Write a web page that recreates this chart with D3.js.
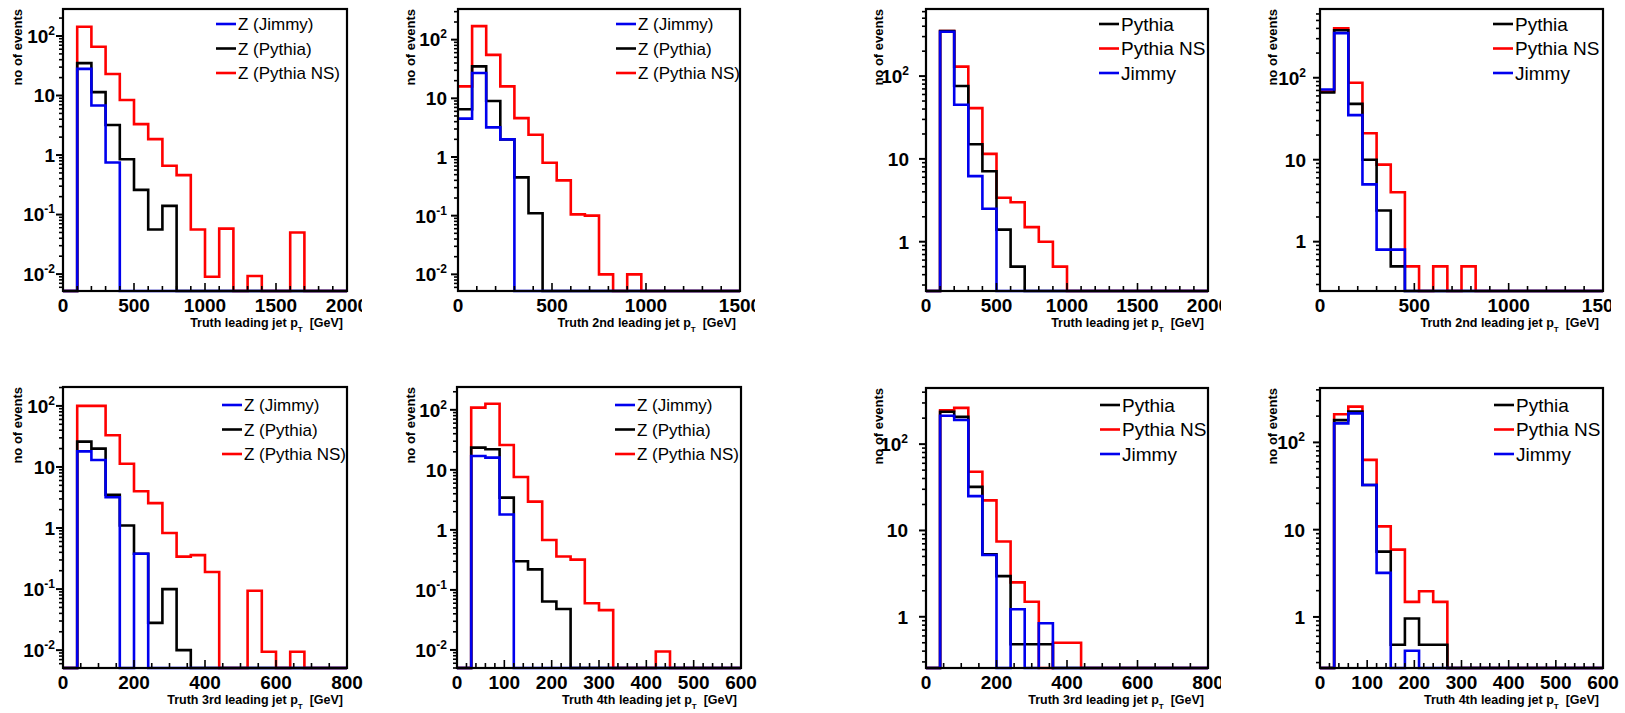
<!DOCTYPE html>
<html>
<head>
<meta charset="utf-8">
<script src="https://cdn.jsdelivr.net/npm/d3@7"></script>
<style>
  html, body { margin: 0; padding: 0; background: #ffffff; }
  svg { display: block; }
  text { font-family: "Liberation Sans", Arial, Helvetica, sans-serif; }
</style>
</head>
<body>
<svg id="chart" width="1625" height="713"></svg>
<script>
// ---------------- data: events per bin ----------------
// Z samples, leading jet pT, 100 GeV bins from 0 to 2000
const zLeadJimmy    = [0, 28, 6.8, 0.75, 0, 0, 0, 0, 0, 0, 0, 0, 0, 0, 0, 0, 0, 0, 0, 0];
const zLeadPythia   = [0, 35, 11.4, 3.2, 0.85, 0.26, 0.056, 0.14, 0, 0, 0, 0, 0, 0, 0, 0, 0, 0, 0, 0];
const zLeadPythiaNS = [0, 143, 66, 23, 8.4, 3.3, 1.85, 0.66, 0.46, 0.056, 0.009, 0.058, 0, 0.0093, 0, 0, 0.05, 0, 0, 0];

// Z samples, 2nd leading jet pT, 75 GeV bins from 0 to 1500
const z2ndJimmy    = [4.5, 27, 3.2, 2, 0, 0, 0, 0, 0, 0, 0, 0, 0, 0, 0, 0, 0, 0, 0, 0];
const z2ndPythia   = [6.5, 35, 9, 2, 0.45, 0.11, 0, 0, 0, 0, 0, 0, 0, 0, 0, 0, 0, 0, 0, 0];
const z2ndPythiaNS = [16, 170, 55, 16, 4.6, 2.4, 0.8, 0.4, 0.105, 0.1, 0.01, 0, 0.01, 0, 0, 0, 0, 0, 0, 0];

// Z samples, 3rd leading jet pT, 40 GeV bins from 0 to 800
const z3rdJimmy    = [0, 18, 13, 3.2, 0, 0.38, 0, 0, 0, 0, 0, 0, 0, 0, 0, 0, 0, 0, 0, 0];
const z3rdPythia   = [0, 26, 20, 3.5, 1.1, 0.38, 0.028, 0.1, 0.01, 0, 0, 0, 0, 0, 0, 0, 0, 0, 0, 0];
const z3rdPythiaNS = [0, 100, 100, 33, 11.3, 4.0, 2.56, 0.83, 0.34, 0.36, 0.19, 0, 0, 0.094, 0.0094, 0, 0.0094, 0, 0, 0];

// Z samples, 4th leading jet pT, 30 GeV bins from 0 to 600
const z4thJimmy    = [0, 17, 16, 1.8, 0, 0, 0, 0, 0, 0, 0, 0, 0, 0, 0, 0, 0, 0, 0, 0];
const z4thPythia   = [0, 23.5, 22, 3.45, 0.3, 0.22, 0.064, 0.048, 0, 0, 0, 0, 0, 0, 0, 0, 0, 0, 0, 0];
const z4thPythiaNS = [0, 109, 126, 26, 7.6, 2.96, 0.68, 0.36, 0.32, 0.06, 0.046, 0, 0, 0, 0.0094, 0, 0, 0, 0, 0];

// Generator comparison, leading jet pT, 100 GeV bins from 0 to 2000
const leadPythia   = [0, 350, 76, 15, 7.1, 1.4, 0.5, 0, 0, 0, 0, 0, 0, 0, 0, 0, 0, 0, 0, 0];
const leadPythiaNS = [0, 350, 130, 41, 11.5, 3.4, 3.0, 1.5, 1.0, 0.5, 0, 0, 0, 0, 0, 0, 0, 0, 0, 0];
const leadJimmy    = [0, 343, 45, 6.2, 2.5, 0, 0, 0, 0, 0, 0, 0, 0, 0, 0, 0, 0, 0, 0, 0];

// Generator comparison, 2nd leading jet pT, 75 GeV bins from 0 to 1500
const sub2Pythia   = [66, 380, 48, 10, 2.4, 0.5, 0, 0, 0, 0, 0, 0, 0, 0, 0, 0, 0, 0, 0, 0];
const sub2PythiaNS = [68, 400, 87, 21, 8.7, 4, 0.5, 0, 0.5, 0, 0.5, 0, 0, 0, 0, 0, 0, 0, 0, 0];
const sub2Jimmy    = [72, 350, 35, 5, 0.8, 0.8, 0, 0, 0, 0, 0, 0, 0, 0, 0, 0, 0, 0, 0, 0];

// Generator comparison, 3rd leading jet pT, 40 GeV bins from 0 to 800
const sub3Pythia   = [0, 237, 207, 32, 5.3, 2.96, 0.48, 0.48, 0.48, 0, 0, 0, 0, 0, 0, 0, 0, 0, 0, 0];
const sub3PythiaNS = [0, 247, 263, 47.8, 22.3, 7.45, 2.5, 1.49, 0, 0.5, 0.5, 0, 0, 0, 0, 0, 0, 0, 0, 0];
const sub3Jimmy    = [0, 213, 190, 25, 5.2, 0, 1.22, 0, 0.84, 0, 0, 0, 0, 0, 0, 0, 0, 0, 0, 0];

// Generator comparison, 4th leading jet pT, 30 GeV bins from 0 to 600
const sub4Pythia   = [0, 180, 225, 32.5, 5.6, 0.48, 0.96, 0.48, 0.48, 0, 0, 0, 0, 0, 0, 0, 0, 0, 0, 0];
const sub4PythiaNS = [0, 210, 257, 63, 10.9, 5.9, 1.49, 1.97, 1.49, 0, 0, 0, 0, 0, 0, 0, 0, 0, 0, 0];
const sub4Jimmy    = [0, 165, 215, 32.5, 3.2, 0, 0.41, 0, 0, 0, 0, 0, 0, 0, 0, 0, 0, 0, 0, 0];

// legend labels and axis titles
const zLabels   = ["Z (Jimmy)", "Z (Pythia)", "Z (Pythia NS)"];
const genLabels = ["Pythia", "Pythia NS", "Jimmy"];
const xTitles   = ["Truth leading jet p", "Truth 2nd leading jet p", "Truth 3rd leading jet p", "Truth 4th leading jet p"];
const yTitle    = "no of events";

// ---------------- layout ----------------
const RED = "#ff0000", BLACK = "#000000", BLUE = "#0000ee";

const panels = [
  { f: [63, 9, 347, 291],     pad: [0, 362],     xMax: 2000, binW: 100, major: 500, minor: 100, yDom: [0.0052, 284], title: xTitles[0],
    hist: { j: zLeadJimmy, p: zLeadPythia, ns: zLeadPythiaNS }, z: true,  legX: 153, legY: 15, yt: 22, ylGap: 8 },
  { f: [458, 9, 740, 291],    pad: [362, 755],   xMax: 1500, binW: 75,  major: 500, minor: 100, yDom: [0.0052, 333], title: xTitles[1],
    hist: { j: z2ndJimmy, p: z2ndPythia, ns: z2ndPythiaNS }, z: true,    legX: 158, legY: 15, yt: 415, ylGap: 11 },
  { f: [926, 9, 1208, 291],   pad: [820, 1221],  xMax: 2000, binW: 100, major: 500, minor: 100, yDom: [0.254, 646], title: xTitles[0],
    hist: { j: leadJimmy, p: leadPythia, ns: leadPythiaNS }, z: false,   legX: 173, legY: 15, yt: 883, ylGap: 17 },
  { f: [1320, 9, 1603, 291],  pad: [1221, 1611], xMax: 1500, binW: 75,  major: 500, minor: 100, yDom: [0.25, 690], title: xTitles[1],
    hist: { j: sub2Jimmy, p: sub2Pythia, ns: sub2PythiaNS }, z: false,   legX: 173, legY: 15, yt: 1277, ylGap: 14 },
  { f: [63, 387, 347, 668],   pad: [0, 400],     xMax: 800,  binW: 40,  major: 200, minor: 50,  yDom: [0.0051, 204], title: xTitles[2],
    hist: { j: z3rdJimmy, p: z3rdPythia, ns: z3rdPythiaNS }, z: true,    legX: 159, legY: 18, yt: 22, ylGap: 8 },
  { f: [457, 387, 741, 668],  pad: [400, 760],   xMax: 600,  binW: 30,  major: 100, minor: 20,  yDom: [0.005, 240], title: xTitles[3],
    hist: { j: z4thJimmy, p: z4thPythia, ns: z4thPythiaNS }, z: true,    legX: 158, legY: 18, yt: 415, ylGap: 10 },
  { f: [926, 388, 1208, 668], pad: [820, 1221],  xMax: 800,  binW: 40,  major: 200, minor: 50,  yDom: [0.255, 447], title: xTitles[2],
    hist: { j: sub3Jimmy, p: sub3Pythia, ns: sub3PythiaNS }, z: false,   legX: 174, legY: 17, yt: 883, ylGap: 18 },
  { f: [1320, 388, 1603, 668], pad: [1221, 1625], xMax: 600, binW: 30,  major: 100, minor: 20,  yDom: [0.26, 420], title: xTitles[3],
    hist: { j: sub4Jimmy, p: sub4Pythia, ns: sub4PythiaNS }, z: false,   legX: 174, legY: 17, yt: 1277, ylGap: 15 }
];

const svg = d3.select("#chart");
const defs = svg.append("defs");

// log-axis decade label: 1, 10, or 10 with a raised exponent
function supLabel(sel, k) {
  if (k === 0) { sel.text("1"); return; }
  if (k === 1) { sel.text("10"); return; }
  sel.append("tspan").text("10");
  sel.append("tspan").attr("font-size", 12).attr("dy", -8).text(String(k));
}

panels.forEach((P, idx) => {
  const [x0, y0, x1, y1] = P.f;
  const x = d3.scaleLinear().domain([0, P.xMax]).range([x0, x1]);
  const y = d3.scaleLog().domain(P.yDom).range([y1, y0]);
  const g = svg.append("g");

  // clip regions: plot frame and whole pad
  defs.append("clipPath").attr("id", "frame" + idx)
    .append("rect").attr("x", x0).attr("y", y0 - 2).attr("width", x1 - x0).attr("height", y1 - y0 + 4);
  defs.append("clipPath").attr("id", "pad" + idx)
    .append("rect").attr("x", P.pad[0]).attr("y", y0 - 10).attr("width", P.pad[1] - P.pad[0]).attr("height", 340);

  // histograms (step outline, empty bins on the frame floor)
  const nBins = Math.round(P.xMax / P.binW);
  const step = d3.line().curve(d3.curveStepAfter).x(d => x(d[0])).y(d => y(d[1]));
  const toPts = vals => {
    const pts = [];
    for (let i = 0; i < nBins; i++) {
      const v = vals[i] > 0 ? Math.max(vals[i], P.yDom[0]) : P.yDom[0];
      pts.push([i * P.binW, v]);
    }
    pts.push([nBins * P.binW, pts[pts.length - 1][1]]);
    return pts;
  };
  const hg = g.append("g").attr("clip-path", `url(#frame${idx})`);
  [[P.hist.ns, RED], [P.hist.p, BLACK], [P.hist.j, BLUE]].forEach(([vals, col]) => {
    hg.append("path").attr("d", step(toPts(vals)))
      .attr("fill", "none").attr("stroke", col).attr("stroke-width", 2.6)
      .attr("stroke-linejoin", "miter");
  });

  // frame
  g.append("rect").attr("x", x0).attr("y", y0).attr("width", x1 - x0).attr("height", y1 - y0)
    .attr("fill", "none").attr("stroke", "#000").attr("stroke-width", 2.2);

  // x ticks (inside, pointing up)
  const minorT = d3.range(0, P.xMax + 0.001, P.minor);
  g.selectAll(null).data(minorT).enter().append("line")
    .attr("x1", d => x(d)).attr("x2", d => x(d))
    .attr("y1", y1).attr("y2", d => y1 - (Math.abs(d % P.major) < 1e-6 ? 8 : 5))
    .attr("stroke", "#000").attr("stroke-width", 1.6);

  // x tick labels
  const lab = g.append("g").attr("clip-path", `url(#pad${idx})`);
  lab.selectAll(null).data(d3.range(0, P.xMax + 0.001, P.major)).enter().append("text")
    .attr("x", d => x(d)).attr("y", y1 + 21)
    .attr("text-anchor", "middle").attr("font-size", 19).attr("font-weight", "bold")
    .text(d => d);

  // y ticks (outside, pointing left), log decades with 2..9 subdivisions
  const kMin = Math.floor(Math.log10(P.yDom[0])), kMax = Math.ceil(Math.log10(P.yDom[1]));
  const yMinorT = [], yMajorT = [];
  for (let k = kMin; k <= kMax; k++) {
    for (let m = 1; m <= 9; m++) {
      const v = m * Math.pow(10, k);
      if (v < P.yDom[0] * 0.999 || v > P.yDom[1] * 1.001) continue;
      if (m === 1) yMajorT.push(k); else yMinorT.push(v);
    }
  }
  g.selectAll(null).data(yMinorT).enter().append("line")
    .attr("x1", x0).attr("x2", x0 - 4).attr("y1", d => y(d)).attr("y2", d => y(d))
    .attr("stroke", "#000").attr("stroke-width", 1.6);
  g.selectAll(null).data(yMajorT).enter().append("line")
    .attr("x1", x0).attr("x2", x0 - 7).attr("y1", k => y(Math.pow(10, k))).attr("y2", k => y(Math.pow(10, k)))
    .attr("stroke", "#000").attr("stroke-width", 2);
  yMajorT.forEach(k => {
    const t = lab.append("text")
      .attr("x", x0 - P.ylGap).attr("y", y(Math.pow(10, k))).attr("dy", "0.36em")
      .attr("text-anchor", "end").attr("font-size", 19).attr("font-weight", "bold");
    supLabel(t, k);
  });

  // x axis title with subscript T
  const xt = g.append("text").attr("x", x1 - 4).attr("y", y1 + 36)
    .attr("text-anchor", "end").attr("font-size", 12.5).attr("font-weight", "bold");
  xt.append("tspan").text(P.title);
  xt.append("tspan").attr("font-size", 8).attr("dy", 5).text("T");
  xt.append("tspan").attr("dy", -5).text("\u00a0\u00a0[GeV]");

  // y axis title
  g.append("text").attr("transform", `translate(${P.yt},${y0}) rotate(-90)`)
    .attr("text-anchor", "end").attr("font-size", 13).attr("font-weight", "bold")
    .text(yTitle);

  // legend
  const entries = P.z
    ? [[zLabels[0], BLUE], [zLabels[1], BLACK], [zLabels[2], RED]]
    : [[genLabels[0], BLACK], [genLabels[1], RED], [genLabels[2], BLUE]];
  const fs = P.z ? 17 : 19;
  entries.forEach(([name, col], i) => {
    const ly = y0 + P.legY + i * 24.5;
    g.append("line").attr("x1", x0 + P.legX).attr("x2", x0 + P.legX + 20)
      .attr("y1", ly).attr("y2", ly).attr("stroke", col).attr("stroke-width", 2.6);
    g.append("text").attr("x", x0 + P.legX + 22).attr("y", ly).attr("dy", "0.36em")
      .attr("font-size", fs).text(name);
  });
});
</script>
</body>
</html>
